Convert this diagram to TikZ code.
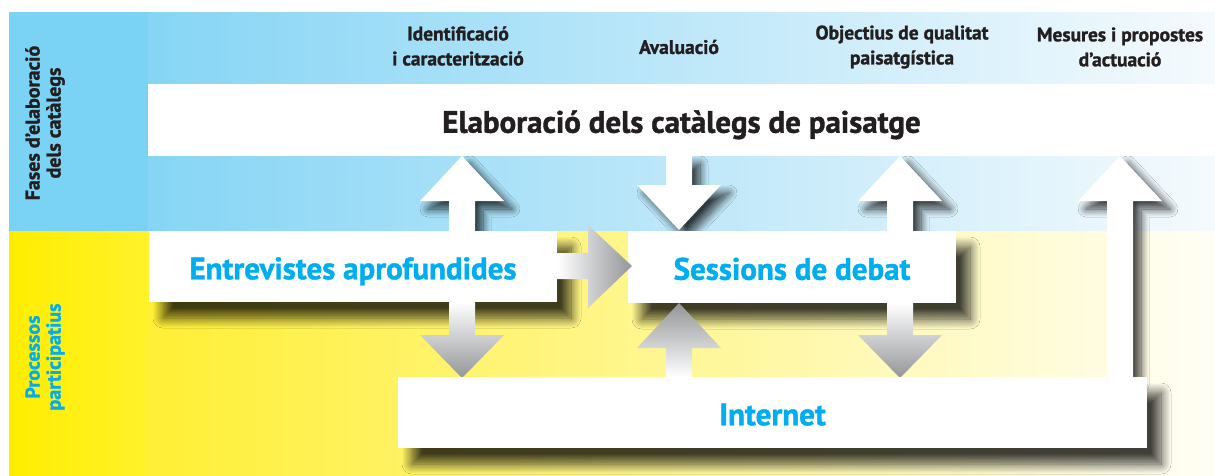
\documentclass[tikz,border=0pt]{standalone}
\usepackage{fontspec}
\setmainfont{PT Sans}[BoldFeatures={FakeBold=1.3}]
\usetikzlibrary{shadows.blur}
\definecolor{cyanT}{HTML}{00AEEF}
\definecolor{darkT}{HTML}{231F20}
\definecolor{blueS}{HTML}{7AD2F4}
\definecolor{blueA}{HTML}{86D5F5}
\definecolor{blueB}{HTML}{F5FAFD}
\definecolor{yelS}{HTML}{FFED00}
\definecolor{yelS2}{HTML}{FFF22A}
\definecolor{yelA}{HTML}{FFEF35}
\definecolor{yelM}{HTML}{FEF6B0}
\definecolor{yelB}{HTML}{FFFEF6}
\definecolor{greyD}{HTML}{939598}
\newcommand\varrowpath[4]{(#1-13,#2) -- (#1-13,#3) -- (#1-42,#3) -- (#1,#4) -- (#1+42,#3) -- (#1+13,#3) -- (#1+13,#2) -- cycle}
\tikzset{
  boxnode/.style={fill=white, inner sep=0pt, text height=25.5pt, text depth=0pt, font=\fontsize{31}{34}\selectfont\bfseries, text=cyanT},
  boxshadow/.style={blur shadow={shadow xshift=14pt, shadow yshift=-16pt, shadow blur radius=10pt, shadow opacity=75, shadow blur steps=16}},
  arrowshadow/.style={blur shadow={shadow xshift=8pt, shadow yshift=-8pt, shadow blur radius=8pt, shadow opacity=75, shadow blur steps=14}},
  toplabel/.style={align=center, text=darkT, font=\fontsize{19.5}{25}\selectfont\bfseries},
  sidelabel/.style={align=center, rotate=90, font=\fontsize{20}{21}\selectfont\bfseries},
  greydown/.style={top color=white, bottom color=greyD},
  greyup/.style={top color=greyD, bottom color=white},
}
\begin{document}
\begin{tikzpicture}[x=1pt, y=-1pt]
\useasboundingbox (0,0) rectangle (1215,475);
% background
\fill[white] (0,0) rectangle (1215,475);
\fill[blueS] (9,12) rectangle (148,231);
\shade[left color=blueA, right color=blueB] (148,12) rectangle (1215,231);
\shade[left color=yelS, right color=yelS2] (9,231) rectangle (148,475);
\shade[left color=yelA, middle color=yelM, right color=yelB] (148,231) rectangle (1215,475);
% side labels
\node[sidelabel, text=darkT] (fases) at (45,123) {Fases d’elaboració\\dels catàlegs};
\node[sidelabel, text=cyanT] (proc) at (45,357) {Processos\\participatius};
% top labels
\node[toplabel] (ident) at (458,46) {Identificació\\i caracterització};
\node[toplabel] (aval) at (679,47) {Avaluació};
\node[toplabel] (objec) at (902,47) {Objectius de qualitat\\paisatgística};
\node[toplabel] (mesur) at (1120,47) {Mesures i propostes\\d’actuació};
% box shadows
\fill[white, boxshadow] (149,231) rectangle (557,302);
\fill[white, boxshadow] (628,231) rectangle (956,303);
\fill[white, boxshadow] (398,377) rectangle (1147,448);
% white arrows with shadows
\fill[white, arrowshadow] \varrowpath{462}{231}{201}{156};
\fill[white, arrowshadow] \varrowpath{679}{156}{185}{230};
\fill[white, arrowshadow] \varrowpath{900}{231}{201}{156};
\fill[white, arrowshadow] \varrowpath{1120}{377}{201}{156};
% grey arrows
\shade[greydown] \varrowpath{462}{302}{335}{378};
\shade[greyup] \varrowpath{679}{377}{348}{303};
\shade[greydown] \varrowpath{900}{303}{335}{378};
% boxes
\node[boxnode, text=darkT, minimum width=1067pt, minimum height=72pt] (elab) at (681.5,120) {Elaboració dels catàlegs de paisatge};
\node[boxnode, minimum width=408pt, minimum height=71pt] (entre) at (353,266.5) {Entrevistes aprofundides};
\node[boxnode, minimum width=328pt, minimum height=72pt] (sess) at (792,267) {Sessions de debat};
\node[boxnode, minimum width=749pt, minimum height=71pt] (inet) at (772.5,412.5) {Internet};
% horizontal arrow
\shade[left color=white, right color=greyD] (entre.east |- 0,253) -- (588,253) -- (588,225) -- (632,266) -- (588,308) -- (588,279) -- (entre.east |- 0,279) -- cycle;
\end{tikzpicture}
\end{document}
